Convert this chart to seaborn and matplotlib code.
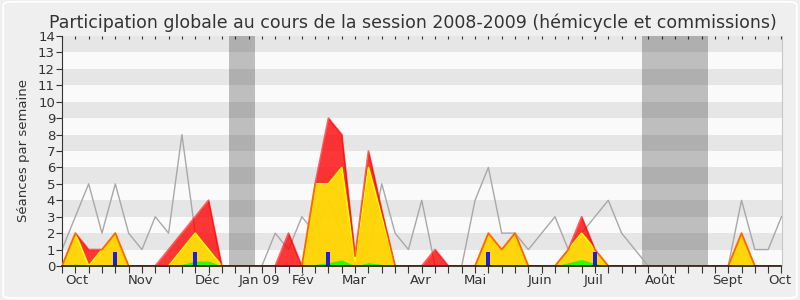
import matplotlib
matplotlib.use("Agg")
import matplotlib.pyplot as plt
import seaborn as sns
from matplotlib.patches import FancyBboxPatch
from matplotlib.ticker import FixedLocator

# ---- data (weekly, session 2008-2009) ----
weeks = list(range(55))
total = [0, 2, 1, 1, 2, 0, 0, 0, 1, 2, 3, 4, 0, 0, 0, 0, 0, 2, 0, 5,
         9, 8, 0.6, 7, 3.4, 0, 0, 0, 1, 0, 0, 0, 2, 1, 2, 0, 0, 0, 1, 3,
         1, 0, 0, 0, 0, 0, 0, 0, 0, 0, 0, 2, 0, 0, 0]
commission = [0, 2, 0, 1, 2, 0, 0, 0, 0, 1, 2, 1, 0, 0, 0, 0, 0, 0, 0, 5,
              5, 6, 0.3, 6, 3, 0, 0, 0, 0, 0, 0, 0, 2, 1, 2, 0, 0, 0, 1, 2,
              1, 0, 0, 0, 0, 0, 0, 0, 0, 0, 0, 2, 0, 0, 0]
interventions = [0, 0.12, 0, 0.05, 0.1, 0, 0, 0, 0, 0.1, 0.3, 0.3, 0, 0, 0, 0, 0, 0, 0, 0.1,
                 0.2, 0.37, 0, 0.2, 0.1, 0, 0, 0, 0, 0, 0, 0, 0.05, 0.05, 0.05, 0, 0, 0, 0.2, 0.4,
                 0.15, 0, 0, 0, 0, 0, 0, 0, 0, 0, 0, 0.05, 0, 0, 0]
questions = [0, 0, 0, 0, 0.85, 0, 0, 0, 0, 0, 0.85, 0, 0, 0, 0, 0, 0, 0, 0, 0,
             0.85, 0, 0, 0, 0, 0, 0, 0, 0, 0, 0, 0, 0.85, 0, 0, 0, 0, 0, 0, 0,
             0.85, 0, 0, 0, 0, 0, 0, 0, 0, 0, 0, 0, 0, 0, 0]
mean_all = [1, 3, 5, 2, 5, 2, 1, 3, 2, 8, 2, 1, 0, 0, 0, 0, 2, 1, 3, 2,
            4, 2, 0, 1, 5, 2, 1, 4, 0, 0, 0, 4, 6, 2, 2, 1, 2, 3, 1, 2,
            3, 4, 2, 1, 0, 0, 0, 0, 0, 0, 0, 4, 1, 1, 3]
month_labels = ["Oct", "Nov", "Déc", "Jan 09", "Fév", "Mar", "Avr", "Mai",
                "Juin", "Juil", "Août", "Sept", "Oct"]
month_weeks = [1.1, 5.9, 10.9, 14.8, 18.1, 21.9, 26.9, 31.0, 35.9, 39.9, 44.9, 49.9, 53.9]
vacation_start = [12.5, 43.5]
vacation_end = [14.5, 48.5]

TXT = "#333333"

fig = plt.figure(figsize=(8, 3), dpi=100, facecolor="#EFEFEF")
fig.patches.append(FancyBboxPatch((0.004, 0.006), 0.992, 0.988,
                                  boxstyle="round,pad=0,rounding_size=0.012",
                                  transform=fig.transFigure, facecolor="none",
                                  edgecolor="white", lw=1.2, zorder=0))
ax = fig.add_axes([62 / 800, 34 / 300, (781.5 - 62) / 800, 230 / 300])
ax.set_facecolor("#FAFAFA")

# horizontal stripes
for lo in range(1, 14, 2):
    ax.axhspan(lo, lo + 1, color="#E6E6E6", lw=0, zorder=0)

# vacation bands
for s, e in zip(vacation_start, vacation_end):
    ax.axvspan(s, e, color="black", alpha=0.24, lw=0, zorder=1)

# mean line
sns.lineplot(x=weeks, y=mean_all, ax=ax, color="#A8A8A8", lw=1, zorder=2)

# areas
ax.fill_between(weeks, total, 0, color="#FF0000", alpha=0.78, lw=0, zorder=3)
ax.fill_between(weeks, commission, 0, color="#FFFF00", alpha=0.8, lw=0, zorder=4)
ax.plot(weeks, commission, color="#FFFF00", lw=1.2, zorder=5)
ax.plot(weeks, total, color="#FF0000", lw=1.3, alpha=0.6, zorder=6)
ax.fill_between(weeks, interventions, 0, color="#00FF00", alpha=0.8, lw=0, zorder=7)

# questions bars
sns.barplot(x=weeks, y=questions, ax=ax, native_scale=True, width=0.3,
            color="#1E1EDC", saturation=1, linewidth=0, zorder=8)

ax.set_xlim(0, 54)
ax.set_ylim(0, 14)
ax.set_xlabel("")
ax.set_ylabel("Séances par semaine", fontsize=9.5, color=TXT, labelpad=6)
ax.set_title("Participation globale au cours de la session 2008-2009 (hémicycle et commissions)",
             fontsize=12.5, color=TXT, pad=6, x=0.487)

ax.yaxis.set_major_locator(FixedLocator(range(15)))
ax.tick_params(axis="y", labelsize=9.5, colors=TXT, length=4, width=0.8, pad=1)

# month labels as major ticks without marks
ax.xaxis.set_major_locator(FixedLocator(month_weeks))
ax.set_xticklabels(month_labels)
ax.tick_params(axis="x", which="major", length=0, labelsize=9.5, labelcolor=TXT, pad=6)
ax.tick_params(axis="x", which="minor", length=0)

# weekly tick marks at the bottom
axb = ax.secondary_xaxis("bottom")
axb.set_xticks(weeks)
axb.set_xticklabels([])
axb.tick_params(axis="x", direction="out", length=5, width=0.8, color=TXT)
axb.spines["bottom"].set_visible(False)

# small top ticks (drawn inward)
axt = ax.secondary_xaxis("top")
axt.set_xticks(weeks)
axt.set_xticklabels([])
axt.tick_params(axis="x", direction="in", length=2, width=0.8, color=TXT)
axt.spines["top"].set_visible(False)

ax.spines["top"].set_visible(False)
ax.spines["right"].set_color("#C8C8C8")
ax.spines["left"].set_color(TXT)
ax.spines["bottom"].set_color("#2A1A1A")
ax.spines["bottom"].set_linewidth(1.2)
ax.spines["bottom"].set_zorder(10)

fig.savefig("out.png", dpi=100, facecolor=fig.get_facecolor())
